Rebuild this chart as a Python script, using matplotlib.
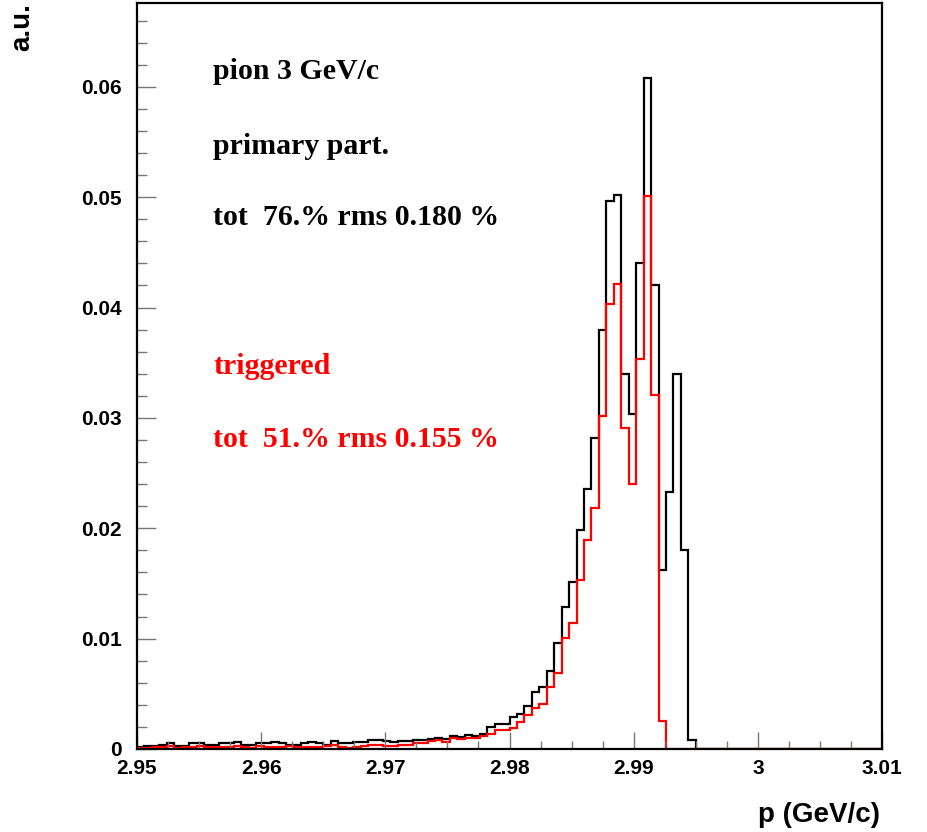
# Import libraries
import numpy as np
import matplotlib
matplotlib.use("Agg")
import matplotlib.pyplot as plt
from matplotlib.ticker import MultipleLocator, FuncFormatter

# Histogram range (100 bins from 2.95 to 3.01 GeV/c)
p_min = 2.95
p_max = 3.01
n_bins = 100

# primary particles (black)
primary = [
    0.0002, 0.0003, 0.0003, 0.0004, 0.0005, 0.0003, 0.0003, 0.0005, 0.0005, 0.0004,
    0.0004, 0.0005, 0.0005, 0.0006, 0.0004, 0.0004, 0.0005, 0.0005, 0.0006, 0.0005,
    0.0004, 0.0004, 0.0005, 0.0006, 0.0005, 0.0004, 0.0007, 0.0005, 0.0005, 0.0006,
    0.0006, 0.0008, 0.0008, 0.0007, 0.0006, 0.0007, 0.0007, 0.0008, 0.0008, 0.0009,
    0.0010, 0.0009, 0.0012, 0.0011, 0.0013, 0.0012, 0.0014, 0.0020, 0.0023, 0.0023,
    0.0029, 0.0032, 0.0039, 0.0052, 0.0056, 0.0071, 0.0096, 0.0129, 0.0151, 0.0198,
    0.0236, 0.0282, 0.0380, 0.0497, 0.0502, 0.0340, 0.0304, 0.0440, 0.0608, 0.0420,
    0.0162, 0.0233, 0.0340, 0.0180, 0.0008, 0.0, 0.0, 0.0, 0.0, 0.0,
    0.0, 0.0, 0.0, 0.0, 0.0, 0.0, 0.0, 0.0, 0.0, 0.0,
    0.0, 0.0, 0.0, 0.0, 0.0, 0.0, 0.0, 0.0, 0.0, 0.0,
]

# triggered (red)
triggered = [
    0.0001, 0.0001, 0.0002, 0.0002, 0.0003, 0.0001, 0.0002, 0.0002, 0.0003, 0.0002,
    0.0002, 0.0002, 0.0002, 0.0003, 0.0002, 0.0001, 0.0003, 0.0002, 0.0002, 0.0002,
    0.0003, 0.0002, 0.0002, 0.0002, 0.0002, 0.0003, 0.0004, 0.0002, 0.0001, 0.0002,
    0.0003, 0.0004, 0.0004, 0.0003, 0.0003, 0.0004, 0.0004, 0.0005, 0.0005, 0.0007,
    0.0008, 0.0006, 0.0010, 0.0009, 0.0010, 0.0010, 0.0012, 0.0014, 0.0017, 0.0017,
    0.0019, 0.0024, 0.0031, 0.0037, 0.0041, 0.0056, 0.0069, 0.0101, 0.0114, 0.0153,
    0.0189, 0.0218, 0.0302, 0.0403, 0.0421, 0.0291, 0.0240, 0.0353, 0.0501, 0.0321,
    0.0025, 0.0, 0.0, 0.0, 0.0, 0.0, 0.0, 0.0, 0.0, 0.0,
    0.0, 0.0, 0.0, 0.0, 0.0, 0.0, 0.0, 0.0, 0.0, 0.0,
    0.0, 0.0, 0.0, 0.0, 0.0, 0.0, 0.0, 0.0, 0.0, 0.0,
]

# text labels
black_lines = ["pion 3 GeV/c", "primary part.", "tot  76.% rms 0.180 %"]
red_lines = ["triggered", "tot  51.% rms 0.155 %"]

edges = np.linspace(p_min, p_max, n_bins + 1)

fig = plt.figure(figsize=(9.27, 8.32), dpi=100)
ax = fig.add_axes([0.1478, 0.0998, 0.8037, 0.8966])

ax.stairs(primary, edges, color="black", linewidth=1.6)
ax.stairs(triggered, edges, color="#ff0000", linewidth=1.6)

ax.set_xlim(p_min, p_max)
ax.set_ylim(0, 0.0676)

# ROOT-like axes: ticks inside, bold sans labels
for s in ax.spines.values():
    s.set_linewidth(1.6)
ax.xaxis.set_major_locator(MultipleLocator(0.01))
ax.xaxis.set_minor_locator(MultipleLocator(0.0025))
ax.yaxis.set_major_locator(MultipleLocator(0.01))
ax.yaxis.set_minor_locator(MultipleLocator(0.002))
fmt = FuncFormatter(lambda v, pos: "%g" % round(v, 4))
ax.xaxis.set_major_formatter(fmt)
ax.yaxis.set_major_formatter(fmt)
ax.tick_params(axis="x", which="major", direction="in", length=12, width=1, pad=7, color="#777777")
ax.tick_params(axis="x", which="minor", direction="in", length=6, width=1, color="#777777")
ax.tick_params(axis="y", which="major", direction="in", length=14, width=1, pad=11, color="#777777")
ax.tick_params(axis="y", which="minor", direction="in", length=7, width=1, color="#777777")
for lab in ax.get_xticklabels() + ax.get_yticklabels():
    lab.set_fontfamily("Liberation Sans")
    lab.set_fontweight("bold")
    lab.set_fontsize(15)

# axis titles
fig.text(880 / 927, 1 - 815 / 832, "p (GeV/c)", ha="right", va="center",
         fontfamily="Liberation Sans", fontweight="bold", fontsize=20)
fig.text(35 / 927, 1 - 3 / 832, "a.u.", rotation=90, ha="right", va="top",
         fontfamily="Liberation Sans", fontweight="bold", fontsize=20)

# annotations
text_y_black = [72, 147, 218]
text_y_red = [367, 440]
for t, y in zip(black_lines, text_y_black):
    ax.text((213 - 137) / 745, (749 - y) / 746, t, transform=ax.transAxes,
            ha="left", va="center", fontfamily="Liberation Serif",
            fontweight="bold", fontsize=21.5, color="black")
for t, y in zip(red_lines, text_y_red):
    ax.text((213 - 137) / 745, (749 - y) / 746, t, transform=ax.transAxes,
            ha="left", va="center", fontfamily="Liberation Serif",
            fontweight="bold", fontsize=21.5, color="#ff0000")

fig.savefig("out.png", dpi=100)
